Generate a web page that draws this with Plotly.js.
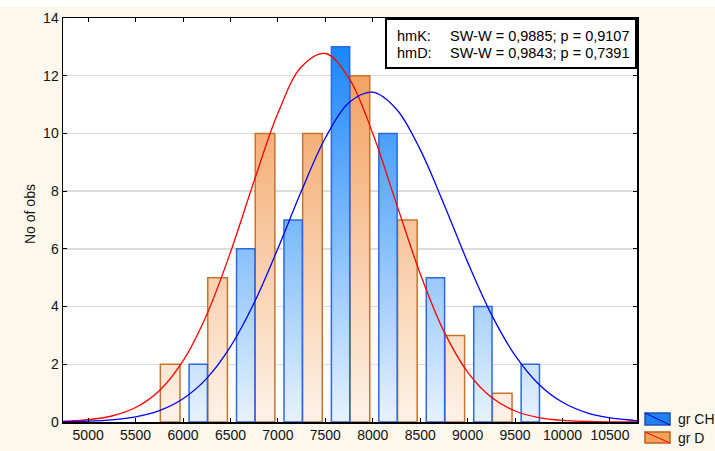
<!DOCTYPE html>
<html>
<head>
<meta charset="utf-8">
<script src="https://cdn.plot.ly/plotly-3.0.1.min.js"></script>
<style>html,body{margin:0;padding:0;background:#fdf8ec;}</style>
</head>
<body>
<div id="chart" style="width:715px;height:451px;"></div>
<script>
// ---- data ----
const bins = [6000, 6500, 7000, 7500, 8000, 8500, 9000, 9500];
const grD  = [2, 5, 10, 10, 12, 7, 3, 1];
const grCH = [2, 6, 7, 13, 10, 5, 4, 2];
const curveX = [4735, 4750, 5000, 5250, 5500, 5750, 6000, 6250, 6500, 6750, 7000, 7250, 7500, 7750, 8000, 8250, 8500, 8750, 9000, 9250, 9500, 9750, 10000, 10250, 10500, 10750, 10785];
const fitD  = [0.024, 0.026, 0.078, 0.208, 0.501, 1.086, 2.119, 3.72, 5.88, 8.36, 10.70, 12.32, 12.77, 11.91, 10.00, 7.56, 5.14, 3.14, 1.73, 0.858, 0.382, 0.153, 0.055, 0.018, 0.005, 0.001, 0.001];
const fitCH = [0.009, 0.010, 0.027, 0.073, 0.176, 0.393, 0.804, 1.51, 2.61, 4.13, 6.01, 8.02, 9.84, 11.07, 11.43, 10.84, 9.44, 7.55, 5.54, 3.73, 2.31, 1.31, 0.683, 0.327, 0.144, 0.058, 0.048];
const xTicks = [5000, 5500, 6000, 6500, 7000, 7500, 8000, 8500, 9000, 9500, 10000, 10500];
const yTicks = [0, 2, 4, 6, 8, 10, 12, 14];
const statLabels = ['hmK:', 'hmD:'];
const statTexts = ['SW-W = 0,9885; p = 0,9107', 'SW-W = 0,9843; p = 0,7391'];
const seriesNames = ['gr CH', 'gr D'];

// ---- geometry helpers (pixel -> paper) ----
const W = 715, H = 451, L = 63, R = 78, T = 18, B = 29;
const PW = W - L - R, PH = H - T - B;
const px = v => (v - L) / PW;
const py = v => (H - B - v) / PH;

const FONT = 'Liberation Sans, Arial, sans-serif';

const traces = [
  {type: 'bar', x: bins, y: grD, name: seriesNames[1], offset: -239, width: 207,
   marker: {color: '#f5a25c', line: {color: 'rgb(200,115,45)', width: 1.5}}, showlegend: false, hoverinfo: 'skip'},
  {type: 'bar', x: bins, y: grCH, name: seriesNames[0], offset: 64, width: 193,
   marker: {color: '#1f80f0', line: {color: 'rgb(45,105,225)', width: 1.5}}, showlegend: false, hoverinfo: 'skip'},
  {type: 'scatter', mode: 'lines', x: curveX, y: fitD, line: {color: '#ff0000', width: 1.3, shape: 'spline'}, showlegend: false, hoverinfo: 'skip'},
  {type: 'scatter', mode: 'lines', x: curveX, y: fitCH, line: {color: '#0000ff', width: 1.3, shape: 'spline'}, showlegend: false, hoverinfo: 'skip'}
];

const shapes = [
  // white strip at very top (cropped title area)
  {type: 'rect', xref: 'paper', yref: 'paper', x0: px(0), x1: px(W), y0: py(7), y1: py(0), fillcolor: '#ffffff', line: {width: 0}, layer: 'above'},
  // stats box
  {type: 'rect', xref: 'paper', yref: 'paper', x0: px(386), x1: px(636), y0: py(68), y1: py(19), fillcolor: '#ffffff', line: {color: '#000', width: 2}, layer: 'above'},
  // legend swatch gr CH
  {type: 'rect', xref: 'paper', yref: 'paper', x0: px(645), x1: px(670), y0: py(425), y1: py(413), fillcolor: '#1f80f0', line: {color: 'rgb(30,80,180)', width: 1.5}},
  {type: 'line', xref: 'paper', yref: 'paper', x0: px(645), x1: px(670), y0: py(413), y1: py(425), line: {color: '#0000cc', width: 1}},
  // legend swatch gr D
  {type: 'rect', xref: 'paper', yref: 'paper', x0: px(645), x1: px(670), y0: py(443), y1: py(432), fillcolor: '#f5a25c', line: {color: 'rgb(190,95,25)', width: 1.5}},
  {type: 'line', xref: 'paper', yref: 'paper', x0: px(645), x1: px(670), y0: py(432), y1: py(443), line: {color: '#ff0000', width: 1}}
];

const annotations = [
  {xref: 'paper', yref: 'paper', x: px(395), y: py(36), xanchor: 'left', yanchor: 'middle', text: statLabels[0], showarrow: false, font: {family: FONT, size: 14.5, color: '#000'}},
  {xref: 'paper', yref: 'paper', x: px(631), y: py(36), xanchor: 'right', yanchor: 'middle', text: statTexts[0], showarrow: false, font: {family: FONT, size: 14.5, color: '#000'}},
  {xref: 'paper', yref: 'paper', x: px(395), y: py(53), xanchor: 'left', yanchor: 'middle', text: statLabels[1], showarrow: false, font: {family: FONT, size: 14.5, color: '#000'}},
  {xref: 'paper', yref: 'paper', x: px(631), y: py(53), xanchor: 'right', yanchor: 'middle', text: statTexts[1], showarrow: false, font: {family: FONT, size: 14.5, color: '#000'}},
  {xref: 'paper', yref: 'paper', x: px(676), y: py(419), xanchor: 'left', yanchor: 'middle', text: seriesNames[0], showarrow: false, font: {family: FONT, size: 14, color: '#111'}},
  {xref: 'paper', yref: 'paper', x: px(676), y: py(438), xanchor: 'left', yanchor: 'middle', text: seriesNames[1], showarrow: false, font: {family: FONT, size: 14, color: '#111'}},
  {xref: 'paper', yref: 'paper', x: px(30), y: py(214), xanchor: 'center', yanchor: 'middle', text: 'No of obs', textangle: -90, showarrow: false, font: {family: FONT, size: 14, color: '#111'}}
];

const layout = {
  width: W, height: H,
  margin: {l: L, r: R, t: T, b: B, pad: 0},
  paper_bgcolor: '#fdf8ec',
  plot_bgcolor: '#ffffff',
  barmode: 'overlay',
  showlegend: false,
  font: {family: FONT, size: 14, color: '#111'},
  xaxis: {
    range: [4735, 10785], tickmode: 'array', tickvals: xTicks, ticktext: xTicks.map(String),
    ticks: 'inside', ticklen: 4, tickwidth: 1, tickcolor: '#000',
    showline: true, linecolor: '#000', linewidth: 1.5, mirror: 'ticks',
    showgrid: false, zeroline: false, tickfont: {family: FONT, size: 14, color: '#111'}
  },
  yaxis: {
    range: [0, 14], tickmode: 'array', tickvals: yTicks, ticktext: yTicks.map(String),
    ticks: 'inside', ticklen: 4, tickwidth: 1, tickcolor: '#000',
    showline: true, linecolor: '#000', linewidth: 1.5, mirror: 'ticks',
    showgrid: true, gridcolor: '#dcdcdc', gridwidth: 1.5, zeroline: false,
    tickfont: {family: FONT, size: 14, color: '#111'}
  },
  shapes: shapes,
  annotations: annotations
};

Plotly.newPlot('chart', traces, layout, {staticPlot: true, displayModeBar: false}).then(gd => {
  const NS = 'http://www.w3.org/2000/svg';
  const svg = gd.querySelector('.main-svg');
  let defs = svg.querySelector('defs');
  if (!defs) { defs = document.createElementNS(NS, 'defs'); svg.insertBefore(defs, svg.firstChild); }
  const h = gd._fullLayout._size.h;
  function addGrad(id, top, bot) {
    const g = document.createElementNS(NS, 'linearGradient');
    g.setAttribute('id', id);
    g.setAttribute('gradientUnits', 'userSpaceOnUse');
    g.setAttribute('x1', 0); g.setAttribute('x2', 0);
    g.setAttribute('y1', 0); g.setAttribute('y2', h);
    [[0, top], [1, bot]].forEach(([o, c]) => {
      const s = document.createElementNS(NS, 'stop');
      s.setAttribute('offset', o);
      s.setAttribute('stop-color', c);
      g.appendChild(s);
    });
    defs.appendChild(g);
  }
  addGrad('gradD', 'rgb(242,150,76)', 'rgb(253,242,232)');
  addGrad('gradCH', 'rgb(10,126,251)', 'rgb(232,242,253)');
  const barTraces = gd.querySelectorAll('.barlayer .trace');
  const ids = ['gradD', 'gradCH'];
  barTraces.forEach((tr, i) => {
    tr.querySelectorAll('path').forEach(p => { p.style.fill = 'url(#' + ids[i] + ')'; });
  });
});
</script>
</body>
</html>
